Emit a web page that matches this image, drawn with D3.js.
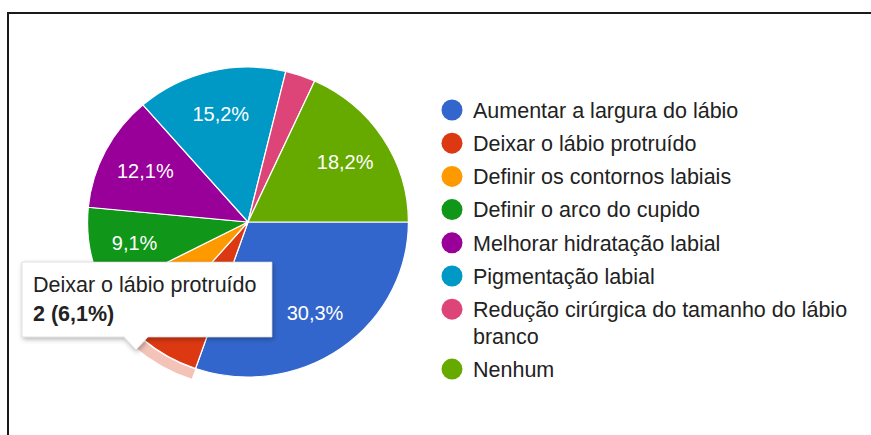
<!DOCTYPE html>
<html>
<head>
<meta charset="utf-8">
<script src="https://cdn.jsdelivr.net/npm/d3@7"></script>
<style>
  body { margin: 0; background: #fff; }
  svg { display: block; font-family: "Liberation Sans", Arial, sans-serif; }
</style>
</head>
<body>
<script>
  // answers (33 responses)
  var categories = [
    "Aumentar a largura do lábio",
    "Deixar o lábio protruído",
    "Definir os contornos labiais",
    "Definir o arco do cupido",
    "Melhorar hidratação labial",
    "Pigmentação labial",
    "Redução cirúrgica do tamanho do lábio branco",
    "Nenhum"
  ];
  var counts = [10, 2, 2, 3, 4, 5, 1, 6];
  var colors = ["#3366cc", "#dc3912", "#ff9900", "#109618", "#990099", "#0099c6", "#dd4477", "#66aa00"];
  var legendLines = [
    ["Aumentar a largura do lábio"],
    ["Deixar o lábio protruído"],
    ["Definir os contornos labiais"],
    ["Definir o arco do cupido"],
    ["Melhorar hidratação labial"],
    ["Pigmentação labial"],
    ["Redução cirúrgica do tamanho do lábio", "branco"],
    ["Nenhum"]
  ];
  var hovered = 1;

  var W = 871, H = 435;
  var svg = d3.select("body").append("svg")
    .attr("width", W)
    .attr("height", H);

  // frame of the screenshot
  svg.append("rect")
    .attr("x", 8).attr("y", 13)
    .attr("width", W + 20).attr("height", H + 20)
    .attr("fill", "none")
    .attr("stroke", "#1a1a1a")
    .attr("stroke-width", 2);

  var total = d3.sum(counts);
  var fmt = function (v) {
    return (v / total * 100).toFixed(1).replace(".", ",") + "%";
  };

  var r = 155;
  var pie = d3.pie().sort(null).value(function (d) { return d; })
    .startAngle(Math.PI / 2).endAngle(Math.PI / 2 + 2 * Math.PI);
  var arcs = pie(counts);
  var arc = d3.arc().innerRadius(0).outerRadius(r);
  var labelArc = d3.arc().innerRadius(r * 0.72).outerRadius(r * 0.72);
  var ring = d3.arc().innerRadius(r + 1).outerRadius(r + 11);

  var g = svg.append("g")
    .attr("transform", "translate(248,222) scale(1.035,1)");

  g.append("path")
    .attr("d", ring(arcs[hovered]))
    .attr("fill", colors[hovered])
    .attr("opacity", 0.3);

  g.selectAll("path.slice").data(arcs).enter()
    .append("path")
    .attr("class", "slice")
    .attr("d", arc)
    .attr("fill", function (d, i) { return colors[i]; })
    .attr("stroke", "#fff")
    .attr("stroke-width", 1.2);

  // small slices (under the tooltip) get no label
  g.selectAll("text.pct").data(arcs.filter(function (d) { return d.value / total > 0.07; })).enter()
    .append("text")
    .attr("class", "pct")
    .attr("transform", function (d) {
      var c = labelArc.centroid(d);
      return "translate(" + c[0] + "," + c[1] + ") scale(" + (1 / 1.035) + ",1)";
    })
    .attr("text-anchor", "middle")
    .attr("dy", "0.36em")
    .attr("fill", "#fff")
    .style("font-size", "20px")
    .text(function (d) { return fmt(d.value); });

  // legend
  var lg = svg.append("g");
  var y = 110;
  legendLines.forEach(function (lines, i) {
    lg.append("circle")
      .attr("cx", 452).attr("cy", y)
      .attr("r", 10.5)
      .attr("fill", colors[i]);
    lines.forEach(function (t, k) {
      lg.append("text")
        .attr("x", 473).attr("y", y + k * 26.7)
        .attr("dy", "0.36em")
        .attr("fill", "#222")
        .style("font-size", "21.5px")
        .text(t);
    });
    y += 33.2 + (lines.length - 1) * 26.7;
  });

  // tooltip for the hovered slice
  var tip = svg.append("g");
  var defs = svg.append("defs");
  var f = defs.append("filter").attr("id", "sh").attr("x", "-10%").attr("y", "-10%")
    .attr("width", "130%").attr("height", "140%");
  f.append("feDropShadow").attr("dx", 1).attr("dy", 2).attr("stdDeviation", 2.5)
    .attr("flood-color", "#000").attr("flood-opacity", 0.3);
  tip.append("path")
    .attr("d", "M22,262 H272 V337 H148 L136,350 L124,337 H22 Z")
    .attr("fill", "#fff")
    .attr("stroke", "#ccc")
    .attr("stroke-width", 0.6)
    .attr("filter", "url(#sh)");
  tip.append("text")
    .attr("x", 33).attr("y", 292)
    .attr("fill", "#222")
    .style("font-size", "21.5px")
    .text(categories[hovered]);
  tip.append("text")
    .attr("x", 33).attr("y", 321)
    .attr("fill", "#222")
    .style("font-size", "21.5px")
    .style("font-weight", "bold")
    .text(counts[hovered] + " (" + fmt(counts[hovered]) + ")");
</script>
</body>
</html>
